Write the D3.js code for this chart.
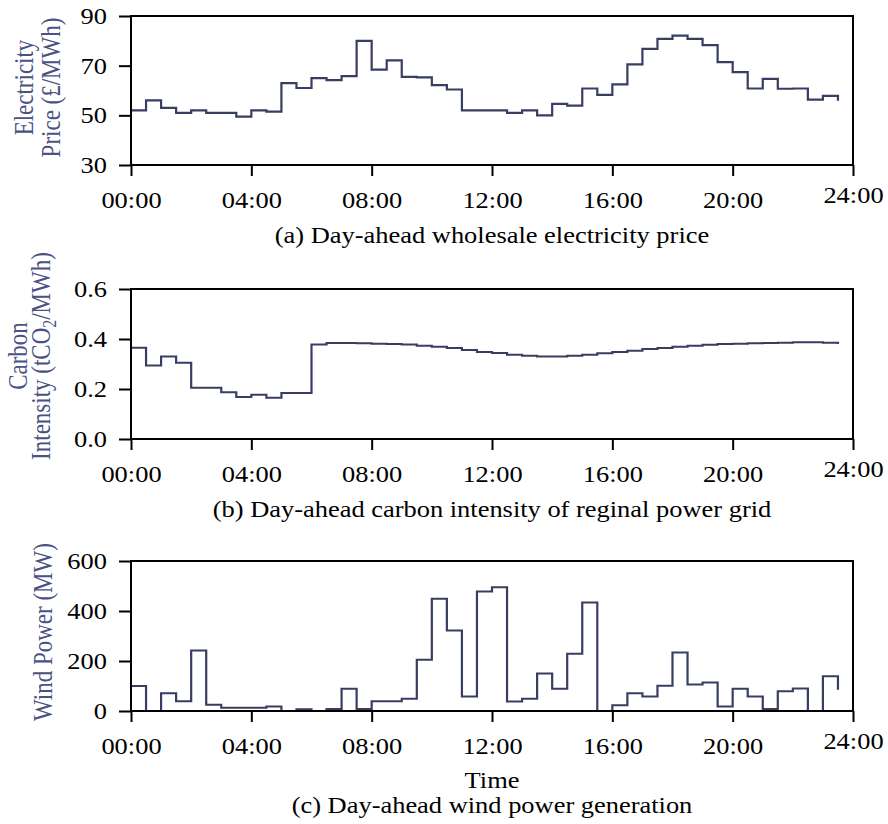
<!DOCTYPE html>
<html>
<head>
<meta charset="utf-8">
<script src="https://cdn.jsdelivr.net/npm/d3@7"></script>
<style>
body { margin: 0; background: #fff; }
text { font-family: "Liberation Serif", "Times New Roman", serif; }
</style>
</head>
<body>
<div id="chart"></div>
<script>
// half-hourly day-ahead values, 00:00 .. 23:30
var price = [52, 56, 53, 51, 52, 51, 51, 49.5, 52, 51.5, 63, 61, 65, 64.2, 65.8, 80, 68.4, 72.1, 65.5, 65.3, 62.2, 60.4, 52, 52,
             52, 51, 52, 50, 54.6, 53.9, 60.8, 58.2, 62.5, 70.5, 76.8, 80.8, 82.1, 80.8, 78.3, 71.4, 67.4, 60.8, 64.7, 60.7, 60.8, 56.3, 57.8, 55.9];
var carbon = [0.365, 0.294, 0.330, 0.305, 0.205, 0.205, 0.187, 0.168, 0.177, 0.165, 0.184, 0.184, 0.378, 0.384, 0.384, 0.383, 0.381, 0.380, 0.378, 0.373, 0.369, 0.364, 0.356, 0.348,
              0.344, 0.337, 0.333, 0.330, 0.330, 0.333, 0.337, 0.343, 0.348, 0.353, 0.360, 0.364, 0.369, 0.373, 0.377, 0.380, 0.381, 0.383, 0.384, 0.385, 0.387, 0.387, 0.385, 0.380];
var wind = [100, 0, 71, 39, 242, 25, 13, 13, 13, 18, 0, 7, 0, 8, 89, 8, 39, 39, 49, 205, 449, 322, 58, 478,
            495, 38, 49, 150, 89, 229, 434, 0, 23, 71, 58, 101, 234, 106, 114, 18, 89, 58, 8, 79, 90, 0, 139, 85];

var timeTicks = [0, 4, 8, 12, 16, 20, 24];
var timeLabels = ["00:00", "04:00", "08:00", "12:00", "16:00", "20:00", "24:00"];
var priceTicks = [30, 50, 70, 90];
var carbonTicks = [0, 0.2, 0.4, 0.6];
var windTicks = [0, 200, 400, 600];

var width = 888, height = 824;
var left = 131, right = 853;
var lineColor = "#383d62", labelColor = "#4a5283";
var fontSize = 23, stretch = 1.15;   // source figure text is a bit wide

var svg = d3.select("#chart").append("svg")
    .attr("width", width)
    .attr("height", height);

var x = d3.scaleLinear().domain([0, 24]).range([left, right]);

// one stacked panel
function panel(opt) {
    var y = d3.scaleLinear().domain(opt.domain).range([opt.bottom, opt.top]);
    var g = svg.append("g");

    // x axis
    var xa = g.append("g")
        .attr("transform", "translate(0," + opt.bottom + ")")
        .call(d3.axisBottom(x).tickValues(timeTicks).tickSize(11)
              .tickFormat(function(d, i){ return timeLabels[i]; }));
    xa.select(".domain").remove();
    xa.selectAll("line").attr("stroke", "#000").attr("stroke-width", 2);
    xa.selectAll("text")
        .attr("y", null).attr("dy", null)
        .attr("fill", "#000")
        .style("font-size", fontSize + "px")
        .attr("transform", function(d){
            return "translate(0," + (d == 24 ? 38 : 43) + ") scale(" + stretch + ",1)";
        });

    // y axis
    var ya = g.append("g")
        .attr("transform", "translate(" + left + ",0)")
        .call(d3.axisLeft(y).tickValues(opt.ticks).tickSize(12).tickFormat(opt.format));
    ya.select(".domain").remove();
    ya.selectAll("line").attr("stroke", "#000").attr("stroke-width", 2);
    ya.selectAll("text")
        .attr("x", null)
        .attr("fill", "#000")
        .style("font-size", fontSize + "px")
        .attr("transform", "translate(-24,0) scale(" + stretch + ",1)");

    // step line
    var line = d3.line()
        .curve(d3.curveStepAfter)
        .x(function(d, i){ return x(i * 0.5); })
        .y(function(d){ return y(d); });
    g.append("path")
        .datum(opt.values)
        .attr("d", line)
        .attr("fill", "none")
        .attr("stroke", lineColor)
        .attr("stroke-width", 2.2);

    // frame
    g.append("rect")
        .attr("x", left).attr("y", opt.top)
        .attr("width", right - left).attr("height", opt.bottom - opt.top)
        .attr("fill", "none")
        .attr("stroke", "#000")
        .attr("stroke-width", 2);

    // y label, rotated, one text per line
    var cy = (opt.top + opt.bottom) / 2 + opt.shift;
    opt.ylabel.forEach(function(parts, k){
        var t = g.append("text")
            .attr("transform", "translate(" + opt.labelX[k] + "," + cy + ") scale(" + stretch + ",1) rotate(-90)")
            .attr("text-anchor", "middle")
            .attr("fill", labelColor)
            .style("font-size", fontSize + "px");
        parts.forEach(function(p){
            if (p[0] == "_") {
                t.append("tspan").text(p.slice(1)).attr("dy", 5).style("font-size", "16px");
            } else {
                var s = t.append("tspan").text(p);
                if (t.selectAll("tspan").size() > 1) s.attr("dy", -5);
            }
        });
    });

    if (opt.xlabel) {
        g.append("text")
            .attr("transform", "translate(" + (left + right) / 2 + "," + opt.xlabelY + ") scale(" + stretch + ",1)")
            .attr("text-anchor", "middle")
            .style("font-size", fontSize + "px")
            .text(opt.xlabel);
    }

    g.append("text")
        .attr("transform", "translate(" + (left + right) / 2 + "," + opt.captionY + ") scale(" + stretch + ",1)")
        .attr("text-anchor", "middle")
        .style("font-size", fontSize + "px")
        .text(opt.caption);
}

panel({top: 16, bottom: 165, values: price, domain: [30, 90], ticks: priceTicks,
       format: d3.format("d"), shift: -3, labelX: [33, 60],
       ylabel: [["Electricity"], ["Price (\u00a3/MWh)"]],
       captionY: 243, caption: "(a) Day-ahead wholesale electricity price"});

panel({top: 289, bottom: 439, values: carbon, domain: [0, 0.6], ticks: carbonTicks,
       format: d3.format(".1f"), shift: -8, labelX: [27, 50],
       ylabel: [["Carbon"], ["Intensity (tCO", "_2", "/MWh)"]],
       captionY: 517, caption: "(b) Day-ahead carbon intensity of reginal power grid"});

panel({top: 561, bottom: 711, values: wind, domain: [0, 600], ticks: windTicks,
       format: d3.format("d"), shift: -4, labelX: [52],
       ylabel: [["Wind Power (MW)"]],
       xlabel: "Time", xlabelY: 788,
       captionY: 813, caption: "(c) Day-ahead wind power generation"});
</script>
</body>
</html>
